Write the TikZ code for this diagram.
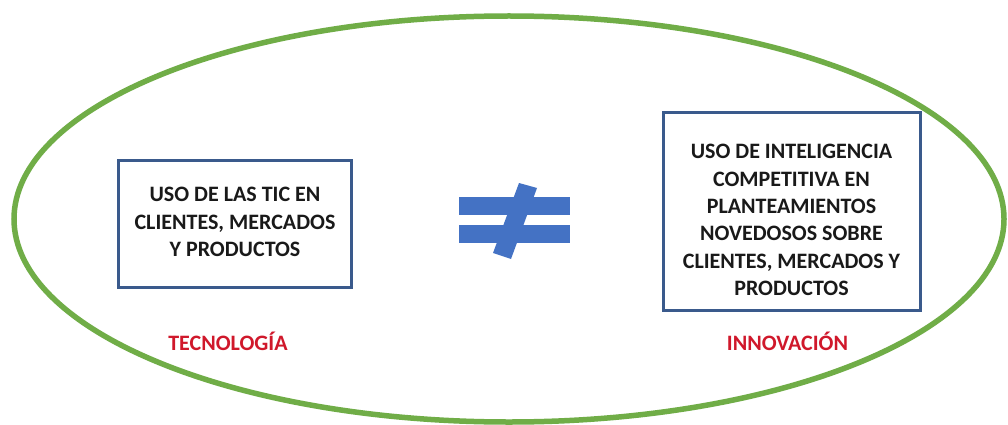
\documentclass[tikz,border=0pt]{standalone}
\usepackage{fontspec}
\setmainfont{Carlito}
\definecolor{ringgreen}{HTML}{70AD47}
\definecolor{boxblue}{HTML}{3A5A8C}
\definecolor{signblue}{HTML}{4472C4}
\definecolor{labelred}{HTML}{D0182B}
\tikzset{
  framebox/.style={draw=boxblue, line width=3pt, fill=white, inner sep=0pt},
  boxtext/.style={align=center, font=\bfseries\fontsize{22}{27.4}\selectfont, text=black!90, inner sep=0pt},
  tag/.style={font=\bfseries\fontsize{22}{27}\selectfont, text=labelred, inner sep=0pt}
}
\begin{document}
\begin{tikzpicture}[x=1pt,y=-1pt]
\useasboundingbox (0,0) rectangle (1008,425);
\fill[white] (0,0) rectangle (1008,425);
\draw[ringgreen, line width=5.5pt] (509,219) ellipse [x radius=495, y radius=203];
\node[framebox, minimum width=233pt, minimum height=127pt] (ticbox) at (234.5,223.5) {};
\node[boxtext] (tic) at (235,222)
  {USO DE LAS TIC EN\\CLIENTES, MERCADOS\\Y PRODUCTOS};
\node[framebox, minimum width=257pt, minimum height=197pt] (icbox) at (791.5,211.5) {};
\node[boxtext] (ic) at (791.5,220)
  {USO DE INTELIGENCIA\\COMPETITIVA EN\\PLANTEAMIENTOS\\NOVEDOSOS SOBRE\\CLIENTES, MERCADOS Y\\PRODUCTOS};
\node[tag] (tec) at (228,341) {TECNOLOGÍA};
\node[tag] (inn) at (787.5,341) {INNOVACIÓN};
\fill[signblue] (459,197) rectangle (570,215);
\fill[signblue] (459,225) rectangle (570,243);
\fill[signblue] (519,183) -- (537,188) -- (511,259) -- (493,253) -- cycle;
\end{tikzpicture}
\end{document}
